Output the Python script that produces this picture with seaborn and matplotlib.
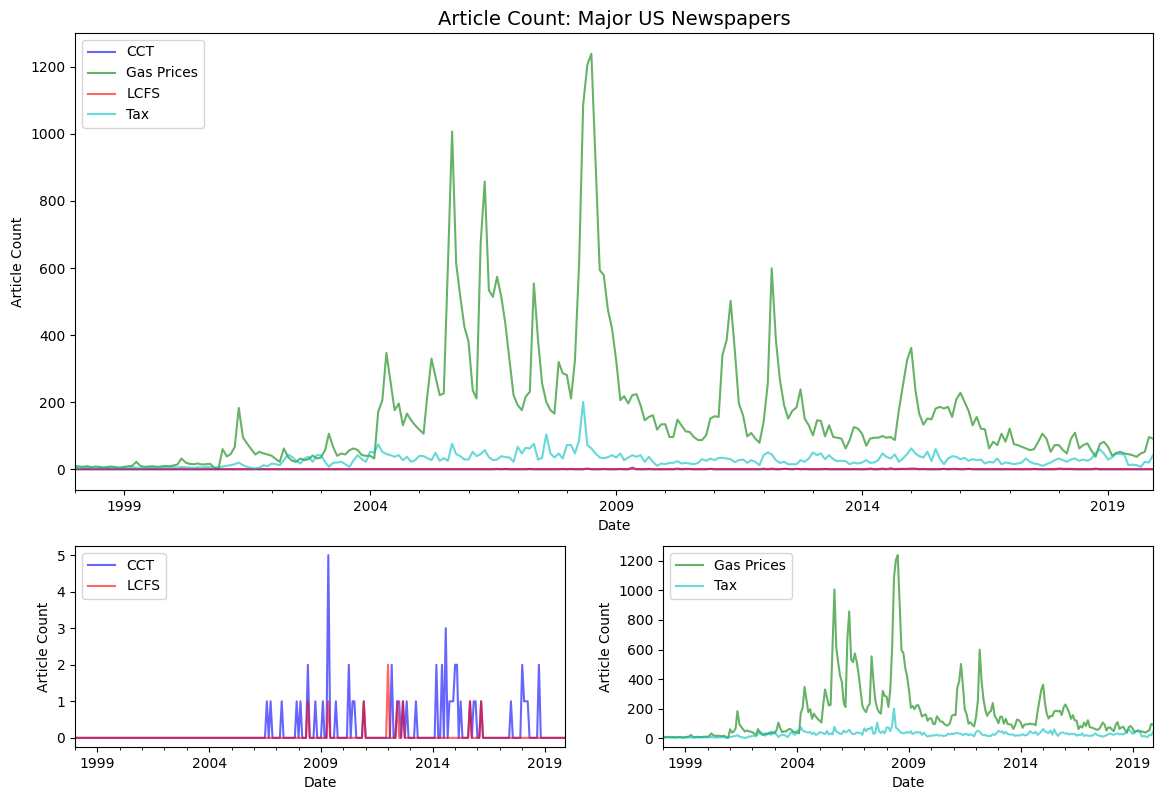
import numpy as np
import pandas as pd
import matplotlib
matplotlib.use("Agg")
import matplotlib.pyplot as plt
import matplotlib.dates as mdates
import seaborn as sns

# ---------------- data (monthly, Jan 1998 - Dec 2019) ----------------
start_month = "1998-01-01"
n_months = 264

gas_prices = [
    10, 8, 7, 9, 6, 8, 7, 5, 7, 8, 6, 5,                      # 1998
    7, 9, 10, 22, 10, 7, 8, 9, 7, 8, 10, 9,                   # 1999
    11, 14, 32, 20, 16, 15, 17, 14, 15, 16, 4, 2,             # 2000
    60, 38, 45, 66, 183, 95, 77, 60, 44, 52, 47, 44,          # 2001
    40, 30, 22, 62, 37, 25, 22, 32, 27, 30, 41, 32,           # 2002
    35, 57, 106, 67, 40, 47, 44, 57, 62, 57, 42, 40,          # 2003
    40, 32, 171, 206, 347, 261, 176, 196, 131, 166, 146, 131, # 2004
    118, 106, 220, 330, 275, 221, 226, 610, 1007, 614, 514, 425,  # 2005
    380, 236, 211, 674, 858, 534, 514, 574, 514, 435, 325, 221,   # 2006
    191, 176, 216, 231, 554, 385, 256, 201, 176, 166, 320, 286,   # 2007
    281, 211, 325, 614, 1087, 1206, 1239, 916, 594, 579, 475, 420,  # 2008
    325, 206, 218, 196, 221, 224, 191, 146, 156, 161, 118, 134,   # 2009
    134, 96, 96, 148, 131, 113, 111, 96, 87, 87, 102, 151,        # 2010
    158, 156, 340, 385, 502, 355, 196, 161, 98, 108, 91, 79,      # 2011
    141, 256, 599, 385, 266, 191, 151, 174, 184, 238, 151, 131,   # 2012
    101, 146, 144, 98, 131, 96, 94, 91, 62, 87, 126, 121,         # 2013
    106, 70, 91, 94, 94, 99, 94, 96, 87, 176, 251, 325,           # 2014
    362, 236, 166, 133, 151, 149, 181, 186, 181, 186, 156, 208,   # 2015
    228, 201, 175, 131, 156, 121, 119, 62, 82, 72, 106, 82,       # 2016
    121, 75, 72, 67, 62, 57, 60, 82, 106, 91, 52, 72,             # 2017
    72, 57, 47, 91, 109, 62, 72, 77, 55, 37, 75, 82,              # 2018
    67, 40, 48, 52, 47, 45, 42, 37, 47, 52, 96, 91,               # 2019
]

tax = [
    4, 3, 5, 6, 4, 3, 5, 4, 6, 5, 4, 3,            # 1998
    5, 4, 6, 5, 3, 4, 5, 6, 4, 5, 6, 5,            # 1999
    6, 5, 7, 6, 5, 4, 6, 5, 7, 6, 5, 6,            # 2000
    8, 10, 12, 15, 20, 12, 7, 4, 2, 5, 12, 9,      # 2001
    17, 15, 12, 27, 44, 37, 25, 17, 32, 37, 22, 42,  # 2002
    42, 22, 7, 19, 20, 22, 15, 7, 27, 42, 30, 22,    # 2003
    52, 49, 74, 52, 45, 42, 37, 42, 27, 37, 22, 27,  # 2004
    40, 39, 33, 27, 49, 25, 33, 25, 76, 45, 39, 29,  # 2005
    29, 52, 39, 45, 57, 36, 27, 29, 39, 36, 35, 22,  # 2006
    67, 47, 64, 62, 76, 29, 34, 104, 47, 35, 47, 32, # 2007
    72, 72, 47, 87, 201, 72, 62, 47, 35, 33, 36, 42, # 2008
    35, 47, 27, 35, 42, 37, 42, 22, 37, 22, 10, 17,  # 2009
    15, 19, 19, 24, 17, 19, 17, 15, 19, 30, 25, 32,  # 2010
    27, 34, 34, 32, 30, 21, 27, 29, 19, 27, 22, 12,  # 2011
    42, 50, 44, 27, 19, 22, 15, 15, 15, 27, 22, 32,  # 2012
    50, 42, 47, 30, 42, 30, 24, 25, 24, 15, 20, 17,  # 2013
    20, 27, 19, 20, 27, 47, 37, 32, 44, 22, 32, 45,  # 2014
    62, 47, 39, 35, 52, 24, 60, 32, 15, 32, 39, 37,  # 2015
    30, 34, 25, 30, 27, 29, 17, 22, 20, 32, 15, 20,  # 2016
    18, 15, 17, 20, 32, 22, 17, 15, 10, 15, 20, 27,  # 2017
    32, 27, 22, 29, 32, 25, 29, 25, 32, 49, 59, 47,  # 2018
    29, 35, 47, 45, 44, 12, 14, 12, 7, 22, 20, 42,   # 2019
]

cct = [
    0, 0, 0, 0, 0, 0, 0, 0, 0, 0, 0, 0,   # 1998
    0, 0, 0, 0, 0, 0, 0, 0, 0, 0, 0, 0,   # 1999
    0, 0, 0, 0, 0, 0, 0, 0, 0, 0, 0, 0,   # 2000
    0, 0, 0, 0, 0, 0, 0, 0, 0, 0, 0, 0,   # 2001
    0, 0, 0, 0, 0, 0, 0, 0, 0, 0, 0, 0,   # 2002
    0, 0, 0, 0, 0, 0, 0, 0, 0, 0, 0, 0,   # 2003
    0, 0, 0, 0, 0, 0, 0, 0, 0, 0, 0, 0,   # 2004
    0, 0, 0, 0, 0, 0, 0, 0, 0, 0, 0, 0,   # 2005
    0, 0, 0, 0, 0, 0, 0, 1, 0, 1, 0, 0,   # 2006
    0, 0, 0, 1, 0, 0, 0, 0, 0, 0, 0, 1,   # 2007
    0, 1, 0, 0, 0, 2, 0, 0, 0, 1, 0, 0,   # 2008
    0, 1, 0, 0, 5, 0, 0, 0, 1, 0, 0, 0,   # 2009
    0, 0, 0, 2, 0, 1, 1, 0, 0, 0, 0, 1,   # 2010
    0, 0, 0, 0, 0, 0, 0, 0, 0, 0, 0, 0,   # 2011
    0, 0, 2, 0, 0, 1, 1, 0, 1, 0, 1, 0,   # 2012
    0, 0, 0, 1, 0, 0, 0, 0, 0, 0, 0, 0,   # 2013
    0, 0, 2, 0, 0, 2, 0, 3, 0, 1, 1, 1,   # 2014
    2, 2, 0, 1, 0, 0, 0, 0, 1, 0, 1, 1,   # 2015
    0, 0, 1, 0, 0, 0, 0, 0, 0, 0, 0, 0,   # 2016
    0, 0, 0, 0, 0, 0, 1, 0, 0, 0, 0, 0,   # 2017
    2, 1, 1, 1, 0, 0, 0, 0, 0, 2, 0, 0,   # 2018
    0, 0, 0, 0, 0, 0, 0, 0, 0, 0, 0, 0,   # 2019
]

lcfs = [
    0, 0, 0, 0, 0, 0, 0, 0, 0, 0, 0, 0,   # 1998
    0, 0, 0, 0, 0, 0, 0, 0, 0, 0, 0, 0,   # 1999
    0, 0, 0, 0, 0, 0, 0, 0, 0, 0, 0, 0,   # 2000
    0, 0, 0, 0, 0, 0, 0, 0, 0, 0, 0, 0,   # 2001
    0, 0, 0, 0, 0, 0, 0, 0, 0, 0, 0, 0,   # 2002
    0, 0, 0, 0, 0, 0, 0, 0, 0, 0, 0, 0,   # 2003
    0, 0, 0, 0, 0, 0, 0, 0, 0, 0, 0, 0,   # 2004
    0, 0, 0, 0, 0, 0, 0, 0, 0, 0, 0, 0,   # 2005
    0, 0, 0, 0, 0, 0, 0, 0, 0, 0, 0, 0,   # 2006
    0, 0, 0, 0, 0, 0, 0, 0, 0, 0, 0, 0,   # 2007
    0, 0, 0, 0, 0, 1, 0, 0, 0, 0, 0, 0,   # 2008
    0, 0, 0, 0, 1, 0, 0, 0, 0, 0, 0, 0,   # 2009
    0, 0, 0, 0, 0, 0, 0, 0, 0, 0, 0, 1,   # 2010
    0, 0, 0, 0, 0, 0, 0, 0, 0, 0, 0, 0,   # 2011
    2, 0, 0, 0, 0, 1, 0, 0, 1, 0, 0, 0,   # 2012
    0, 0, 0, 0, 0, 0, 0, 0, 0, 0, 0, 0,   # 2013
    0, 0, 0, 0, 0, 0, 0, 0, 0, 0, 0, 0,   # 2014
    0, 0, 0, 0, 0, 0, 0, 0, 1, 0, 0, 0,   # 2015
    0, 0, 1, 0, 0, 0, 0, 0, 0, 0, 0, 0,   # 2016
    0, 0, 0, 0, 0, 0, 0, 0, 0, 0, 0, 0,   # 2017
    0, 0, 0, 0, 0, 0, 0, 0, 0, 0, 0, 0,   # 2018
    0, 0, 0, 0, 0, 0, 0, 0, 0, 0, 0, 0,   # 2019
]

major_years = ["1999", "2004", "2009", "2014", "2019"]

dates = pd.date_range(start_month, periods=n_months, freq="MS")
df = pd.DataFrame({"Date": dates, "CCT": cct, "Gas Prices": gas_prices,
                   "LCFS": lcfs, "Tax": tax})

series_colors = {"CCT": "b", "Gas Prices": "g", "LCFS": "r", "Tax": "c"}

# ---------------- figure ----------------
W, H = 1156, 790
fig = plt.figure(figsize=(W / 100, H / 100), dpi=100)


def frac_axes(x0, y0, x1, y1):
    return fig.add_axes([x0 / W, 1 - y1 / H, (x1 - x0) / W, (y1 - y0) / H])


ax_top = frac_axes(75, 33, 1153, 490)
ax_bl = frac_axes(75, 546, 565, 747)
ax_br = frac_axes(663, 546, 1153, 747)


def draw(ax, cols):
    for col in cols:
        sns.lineplot(data=df, x="Date", y=col, ax=ax, color=series_colors[col],
                     alpha=0.6, linewidth=1.5, label=col, errorbar=None)
    ax.set_xlim(dates[0], dates[-1])
    ax.set_xticks([pd.Timestamp(y + "-01-01") for y in major_years])
    ax.xaxis.set_major_formatter(mdates.DateFormatter("%Y"))
    ax.xaxis.set_minor_locator(mdates.YearLocator(1))
    ax.set_xlabel("Date")
    ax.set_ylabel("Article Count")
    ax.legend(loc="upper left")


draw(ax_top, ["CCT", "Gas Prices", "LCFS", "Tax"])
ax_top.set_yticks([0, 200, 400, 600, 800, 1000, 1200])
ax_top.set_title("Article Count: Major US Newspapers", fontsize=14)

draw(ax_bl, ["CCT", "LCFS"])
ax_bl.set_yticks([0, 1, 2, 3, 4, 5])

draw(ax_br, ["Gas Prices", "Tax"])
ax_br.set_yticks([0, 200, 400, 600, 800, 1000, 1200])

fig.savefig("out.png", dpi=100)
